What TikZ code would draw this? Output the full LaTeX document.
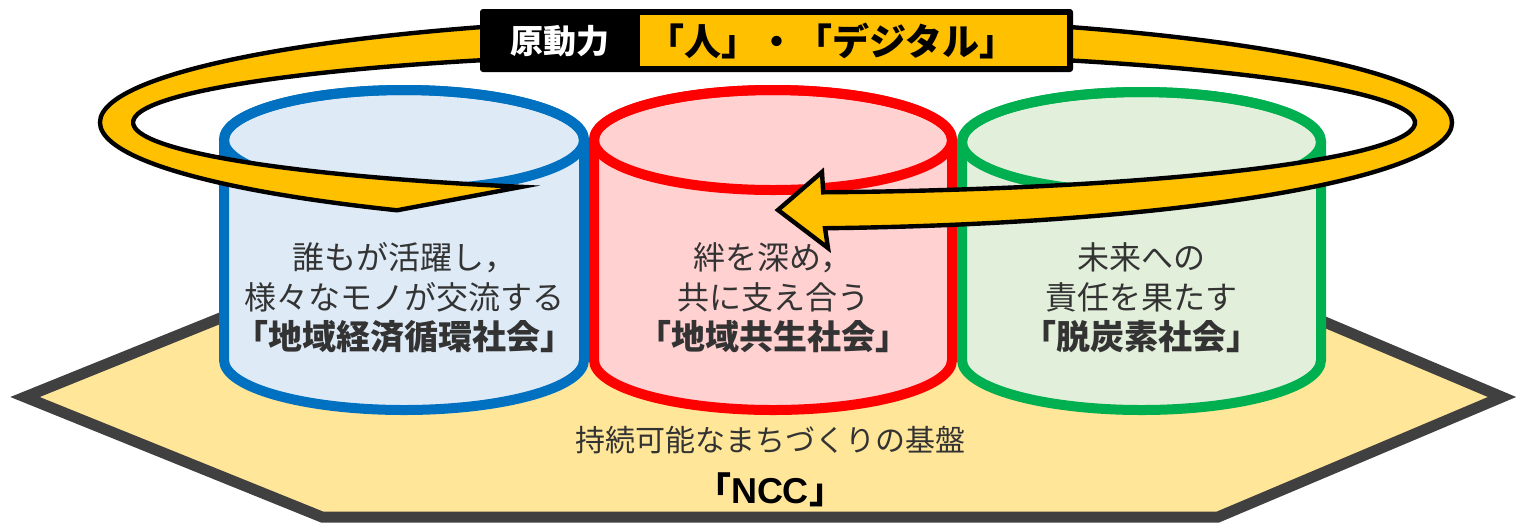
\documentclass[tikz,border=0pt]{standalone}
\usepackage{fontspec}
\setmainfont{Noto Sans CJK JP}
\newfontfamily\latinfont{Liberation Sans}
\usetikzlibrary{calc}

\definecolor{ringgold}{HTML}{FFC000}
\definecolor{hexfill}{HTML}{FFE699}
\definecolor{hexline}{HTML}{404040}
\definecolor{blueline}{HTML}{0070C0}
\definecolor{bluefill}{HTML}{DEEBF7}
\definecolor{redline}{HTML}{FF0000}
\definecolor{redfill}{HTML}{FFD1D1}
\definecolor{greenline}{HTML}{00B050}
\definecolor{greenfill}{HTML}{E2EFDA}

\begin{document}
\begin{tikzpicture}[
    x=0.5pt, y=-0.5pt,
    hexbase/.style={fill=hexfill, draw=hexline, line width=5.5pt, line join=miter},
    cylblue/.style={fill=bluefill, draw=blueline, line width=5pt},
    cylred/.style={fill=redfill, draw=redline, line width=5pt},
    cylgreen/.style={fill=greenfill, draw=greenline, line width=5pt},
    ringband/.style={fill=ringgold, draw=black, line width=2.2pt, line join=miter},
    cyltext/.style={align=center, text=black!80, font=\fontsize{16}{20}\selectfont},
    hextext/.style={text=black!80, font=\fontsize{15}{18}\selectfont},
    keytext/.style={text=white, font=\bfseries\fontsize{16.5}{18}\selectfont},
    valtext/.style={text=black, font=\bfseries\fontsize{18.5}{20}\selectfont}
  ]
  \useasboundingbox (0,0) rectangle (1519,526);

  %Base
  \draw[hexbase] (25,397) -- (322,277) -- (1218,277) -- (1502,397)
    -- (1218,517) -- (322,517) -- cycle;
  \node[hextext] (basis) at (770,440) {持続可能なまちづくりの基盤};
  \node[font=\bfseries\fontsize{18}{20}\selectfont] (ncc) at (770,490)
    {「{\latinfont NCC}」};

  %Cylinders
  \path[cylblue] (224,140) -- (224,360) arc[start angle=180, end angle=0, x radius=180, y radius=50]
    -- (584,140) arc[start angle=0, end angle=-180, x radius=180, y radius=50] -- cycle;
  \draw[cylblue, fill=none] (404,140) ellipse[x radius=180, y radius=50];
  \path[cylred] (594,140) -- (594,360) arc[start angle=180, end angle=0, x radius=179, y radius=50]
    -- (952,140) arc[start angle=0, end angle=-180, x radius=179, y radius=50] -- cycle;
  \draw[cylred, fill=none] (773,140) ellipse[x radius=179, y radius=50];
  \path[cylgreen] (962,142) -- (962,360) arc[start angle=180, end angle=0, x radius=179.5, y radius=50]
    -- (1321,142) arc[start angle=0, end angle=-180, x radius=179.5, y radius=50] -- cycle;
  \draw[cylgreen, fill=none] (1141.5,142) ellipse[x radius=179.5, y radius=50];

  %Labels
  \node[cyltext] (economy) at (404,298)
    {誰もが活躍し，\\様々なモノが交流する\\{\bfseries\fontsize{17}{20}\selectfont 「地域経済循環社会」}};
  \node[cyltext] (symbiosis) at (773,298)
    {絆を深め，\\共に支え合う\\{\bfseries\fontsize{17}{20}\selectfont 「地域共生社会」}};
  \node[cyltext] (carbon) at (1141.5,298)
    {未来への\\責任を果たす\\{\bfseries\fontsize{17}{20}\selectfont 「脱炭素社会」}};

  %Ring arrow
  \coordinate (ringout) at (776,122.5);
  \coordinate (ringin) at (774,122.5);
  \path[ringband] ($(ringout)+(124.1:676 and 106)$)
    arc[start angle=124.1, end angle=445.84, x radius=676, y radius=106]
    -- (828,248) -- (778,210) -- (822,172) -- (823.2,192.3)
    arc[start angle=445.6, end angle=113.2, x radius=641, y radius=70] -- cycle;

  %Title
  \fill[black, rounded corners=1.5pt] (480,9) rectangle (1073,72);
  \fill[ringgold] (640,15) rectangle (1067,66);
  \node[keytext] (driver) at (560,41) {原動力};
  \node[valtext] (sources) at (832,41) {「人」・「デジタル」};

\end{tikzpicture}
\end{document}
